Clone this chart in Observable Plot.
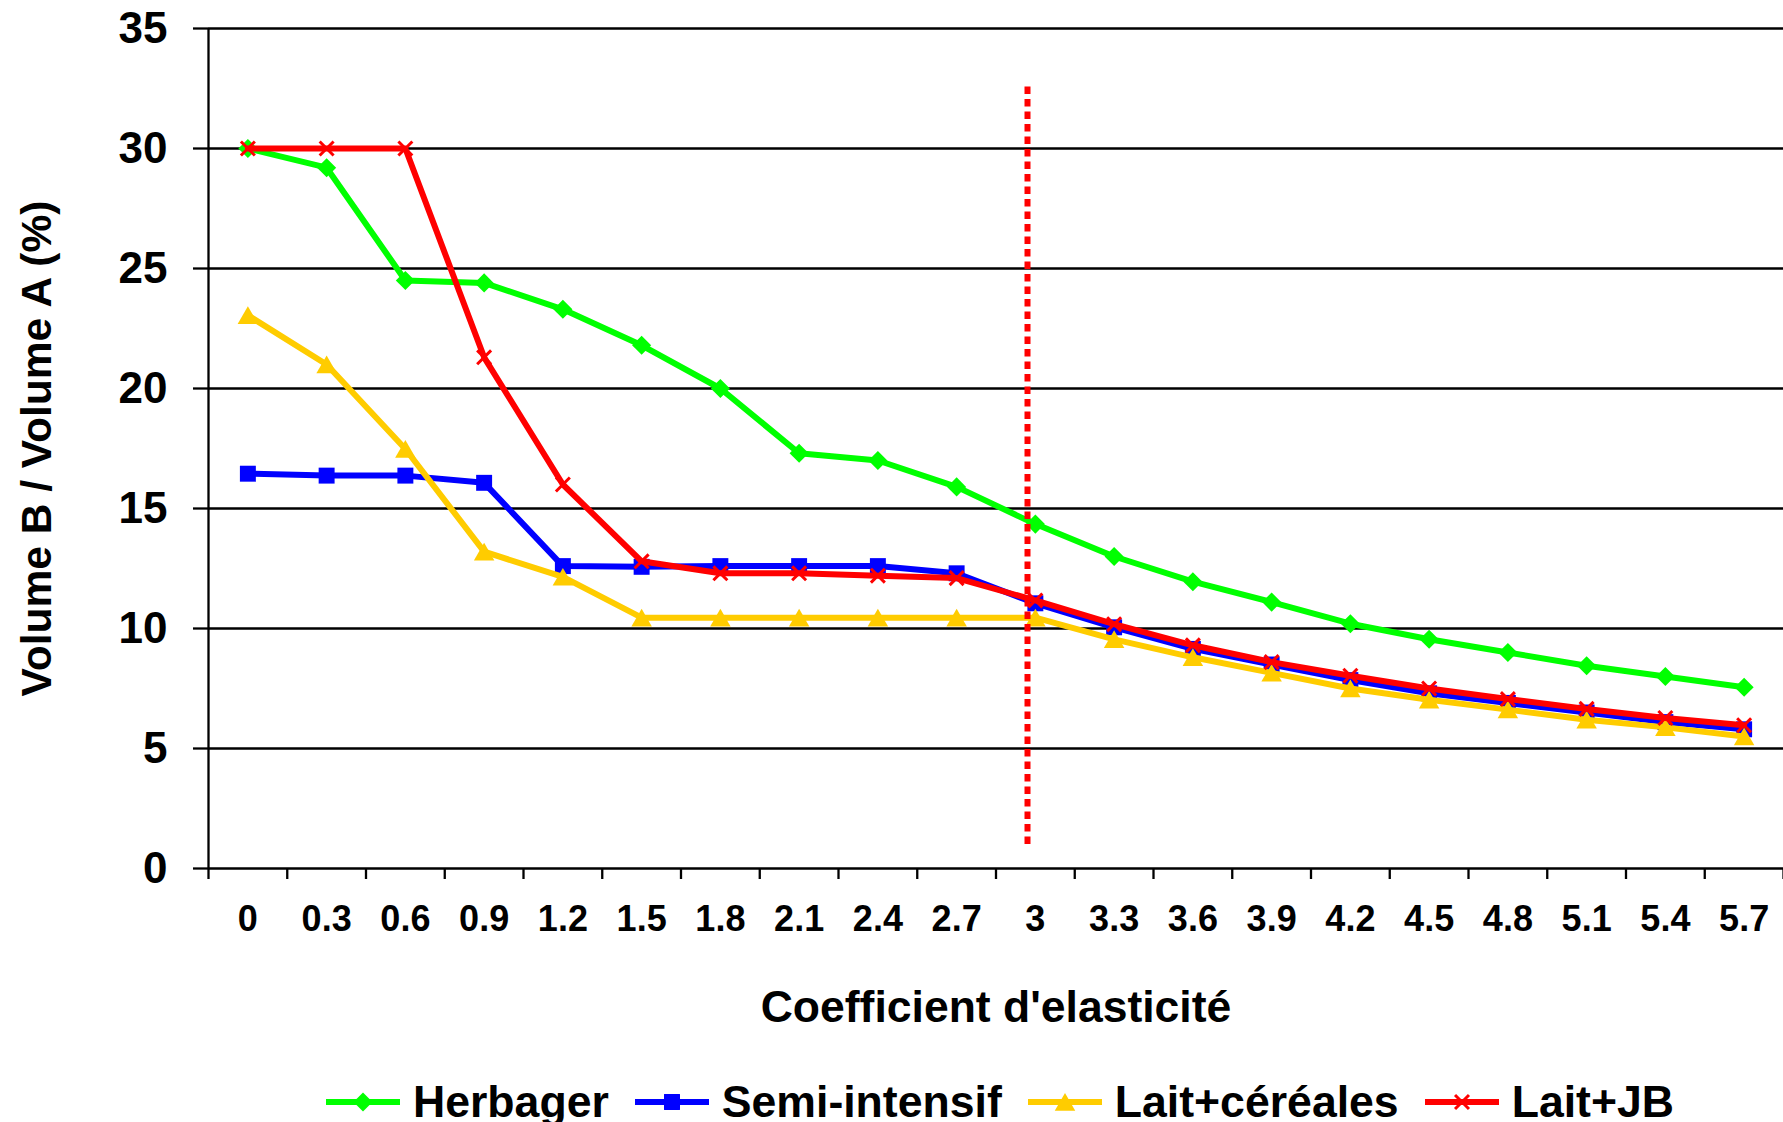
<!DOCTYPE html>
<html><head><meta charset="utf-8">
<script src="https://cdn.jsdelivr.net/npm/d3@7"></script>
<script src="https://cdn.jsdelivr.net/npm/@observablehq/plot@0.6"></script>
<style>
html,body{margin:0;padding:0;background:#fff;}
body{width:1783px;height:1122px;overflow:hidden;font-family:"Liberation Sans",Arial,sans-serif;font-weight:bold;color:#000;}
#legend{display:flex;align-items:center;height:64px;padding-left:326px;font-size:44.6px;white-space:nowrap;line-height:64px;}
.item{display:flex;align-items:center;margin-right:26px;}
.item svg{margin-right:13px;display:block;}
</style></head><body><div id="chart"></div><div id="legend"></div>
<script>
const xLabels = ["0","0.3","0.6","0.9","1.2","1.5","1.8","2.1","2.4","2.7","3","3.3","3.6","3.9","4.2","4.5","4.8","5.1","5.4","5.7"];
const herbager     = [30.0,29.2,24.5,24.4,23.3,21.8,20.0,17.3,17.0,15.9,14.35,13.0,11.95,11.1,10.2,9.55,9.0,8.45,8.0,7.55];
const semiIntensif = [16.45,16.37,16.37,16.07,12.6,12.57,12.6,12.6,12.6,12.3,11.05,10.05,9.15,8.5,7.85,7.3,6.9,6.5,6.1,5.8];
const laitCereales = [23.05,21.0,17.48,13.2,12.15,10.45,10.45,10.45,10.45,10.45,10.45,9.55,8.8,8.15,7.5,7.03,6.62,6.2,5.88,5.5];
const laitJB       = [30,30,30,21.3,16.0,12.8,12.3,12.3,12.2,12.1,11.17,10.18,9.3,8.6,8.03,7.5,7.06,6.65,6.27,5.97];
const seriesNames  = ["Herbager","Semi-intensif","Lait+céréales","Lait+JB"];
const yTicks = [0,5,10,15,20,25,30,35];
const thresholdX = 2.97;
const thresholdY = [1, 32.6];
const xTitle = "Coefficient d'elasticité";
const yTitle = "Volume B / Volume A (%)";

const seriesValues = [herbager, semiIntensif, laitCereales, laitJB];
const styles = [
  {color:"#00FF00", symbol:"diamond2", r:8.6, fill:true, dy:0},
  {color:"#0000FF", symbol:"square", r:9, fill:true, dy:0},
  {color:"#FFCC00", symbol:"triangle", r:7.6, fill:true, dy:2.8},
  {color:"#FF0000", symbol:"times", r:6.4, fill:false, dy:0}
];
const xVals = xLabels.map(Number);
const step = xVals[1] - xVals[0];
const xDomain = [xVals[0] - step/2, xVals[xVals.length-1] + step/2];
const boundaries = d3.range(xVals.length + 1).map(i => xDomain[0] + i*step);
const labelMap = new Map(xVals.map((v,i) => [v, xLabels[i]]));

const rows = seriesNames.map((name, s) => xVals.map((x, i) => ({series:name, x, y:seriesValues[s][i]})));

const marks = [
  Plot.gridY(yTicks, {stroke:"#000", strokeOpacity:1, strokeWidth:2.3}),
  Plot.ruleX([xDomain[0]], {y1:0, y2:35, stroke:"#000", strokeWidth:2.3}),
  Plot.axisY({ticks:yTicks, tickSize:15, tickPadding:26, fontSize:44, fontWeight:"bold", stroke:"#000", strokeWidth:2.3, label:null}),
  Plot.axisX({ticks:boundaries, tickSize:11, tickFormat:() => "", stroke:"#000", strokeWidth:2.3, label:null}),
  Plot.axisX({ticks:xVals, tickSize:0, tickPadding:37, fontSize:36, fontWeight:"bold", tickFormat:d => labelMap.get(d) ?? String(d), label:null}),
  Plot.text([xTitle], {frameAnchor:"bottom", dy:139, fontSize:44.5, fontWeight:"bold", lineAnchor:"middle", textAnchor:"middle", text:d => d}),
  Plot.text([yTitle], {frameAnchor:"left", dx:-171, rotate:-90, fontSize:42.5, fontWeight:"bold", lineAnchor:"middle", textAnchor:"middle", text:d => d})
];
rows.forEach((data, s) => {
  const st = styles[s];
  marks.push(Plot.line(data, {x:"x", y:"y", stroke:st.color, strokeWidth:6}));
  if (st.fill) marks.push(Plot.dot(data, {x:"x", y:"y", symbol:st.symbol, r:st.r, dy:st.dy, fill:st.color, stroke:"none"}));
  else marks.push(Plot.dot(data, {x:"x", y:"y", symbol:st.symbol, r:st.r, stroke:st.color, strokeWidth:3, fill:"none"}));
});
marks.push(Plot.ruleX([thresholdX], {y1:thresholdY[0], y2:thresholdY[1], stroke:"#FF0000", strokeWidth:6, strokeDasharray:"7.5,5"}));

const chart = Plot.plot({
  width:1783, height:1070,
  marginLeft:208, marginRight:0, marginTop:28, marginBottom:202,
  x:{type:"linear", domain:xDomain, label:null},
  y:{domain:[0,35], label:null},
  style:{fontFamily:'"Liberation Sans", Arial, sans-serif', fontWeight:"bold", background:"#fff", color:"#000", overflow:"visible"},
  marks
});
document.getElementById("chart").appendChild(chart);

const symMap = {diamond2:d3.symbolDiamond2, square:d3.symbolSquare, triangle:d3.symbolTriangle, times:d3.symbolTimes};
const legend = d3.select("#legend");
seriesNames.forEach((name, s) => {
  const st = styles[s];
  const item = legend.append("div").attr("class","item");
  const svg = item.append("svg").attr("width",74).attr("height",24);
  svg.append("line").attr("x1",0).attr("x2",74).attr("y1",12).attr("y2",12).attr("stroke",st.color).attr("stroke-width",6);
  const p = svg.append("path").attr("transform",`translate(37,${12 + st.dy})`)
    .attr("d", d3.symbol(symMap[st.symbol], Math.PI*st.r*st.r)());
  if (st.fill) p.attr("fill", st.color); else p.attr("fill","none").attr("stroke",st.color).attr("stroke-width",3);
  item.append("span").text(name);
});
</script></body></html>
